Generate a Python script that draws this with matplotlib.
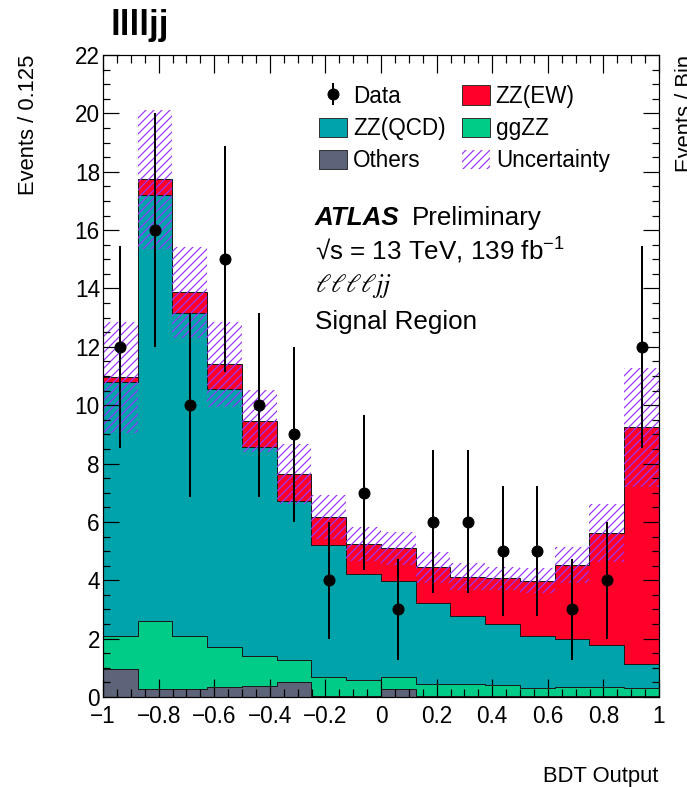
import numpy as np
import matplotlib
matplotlib.use("Agg")
import matplotlib.pyplot as plt
from matplotlib.patches import Patch

# 72 dpi: 1 pt == 1 px
W, H, DPI = 687, 787, 72
plt.rcParams['font.family'] = ['Liberation Sans', 'DejaVu Sans']
plt.rcParams['hatch.linewidth'] = 1.2

# bin edges of the BDT output (16 bins of 0.125)
edges = np.linspace(-1, 1, 17)

# stacked yields per bin, bottom to top
others = [0.95, 0.26, 0.26, 0.35, 0.39, 0.50, 0.05, 0.05,
          0.26, 0.02, 0.02, 0.02, 0.02, 0.02, 0.02, 0.02]
ggzz = [1.14, 2.35, 1.83, 1.36, 1.01, 0.77, 0.64, 0.52,
        0.44, 0.43, 0.41, 0.39, 0.29, 0.31, 0.31, 0.29]
zz_qcd = [8.72, 14.58, 11.06, 8.83, 7.16, 5.45, 4.51, 3.63,
          3.28, 2.78, 2.35, 2.08, 1.78, 1.67, 1.44, 0.82]
zz_ew = [0.14, 0.55, 0.72, 0.86, 0.90, 0.92, 0.96, 1.05,
         1.12, 1.21, 1.34, 1.58, 1.90, 2.52, 3.84, 8.11]
# total uncertainty (symmetric)
unc = [1.90, 2.38, 1.56, 1.46, 1.06, 1.03, 0.76, 0.59,
       0.56, 0.54, 0.46, 0.40, 0.42, 0.63, 1.00, 2.04]
# data
data = [12, 16, 10, 15, 10, 9, 4, 7, 3, 6, 6, 5, 5, 3, 4, 12]
data_err = [3.46, 4.00, 3.16, 3.87, 3.16, 3.00, 2.00, 2.65,
            1.73, 2.45, 2.45, 2.24, 2.24, 1.73, 2.00, 3.46]

c_others = '#5d6379'
c_ggzz = '#00cc88'
c_qcd = '#00a3a9'
c_ew = '#ff0029'
c_unc = '#9933ff'
hatch = '///'


def fx(px):
    return px / W


def fy(py):
    return 1 - py / H


fig = plt.figure(figsize=(W / DPI, H / DPI), dpi=DPI)
ax = fig.add_axes([fx(103), fy(697), fx(659) - fx(103), fy(55) - fy(697)])

# stack
comps = [(others, c_others), (ggzz, c_ggzz), (zz_qcd, c_qcd), (zz_ew, c_ew)]
base = np.zeros(16)
for vals, col in comps:
    top = base + np.array(vals)
    ax.stairs(top, edges, baseline=base, fill=True, facecolor=col,
              edgecolor='#1a1a1a', linewidth=1.0)
    base = top
total = base

# uncertainty band
ax.stairs(total + np.array(unc), edges, baseline=total - np.array(unc), fill=True,
          facecolor='none', edgecolor=c_unc, hatch=hatch, linewidth=0)

centers = 0.5 * (edges[:-1] + edges[1:])
dat = ax.errorbar(centers, data, yerr=data_err, fmt='o', color='black',
                  markersize=11, elinewidth=2, capsize=0)

ax.set_xlim(-1, 1)
ax.set_ylim(0, 22)
ax.set_xticks(np.arange(-1, 1.01, 0.2))
ax.set_xticks(np.arange(-1, 1.01, 0.05), minor=True)
ax.set_yticks(np.arange(0, 22.1, 2))
ax.set_yticks(np.arange(0, 22.1, 0.5), minor=True)
ax.xaxis.set_major_formatter(plt.FuncFormatter(
    lambda v, p: '0' if abs(v) < 1e-9 else ('%g' % round(v, 2)).replace('-', '\u2212')))
ax.tick_params(which='both', direction='in', top=True, right=True, width=1.2,
               labelsize=22.5)
ax.tick_params(axis='x', which='major', length=18, pad=8)
ax.tick_params(axis='x', which='minor', length=8)
ax.tick_params(axis='y', which='major', length=16, pad=3)
ax.tick_params(axis='y', which='minor', length=7)
for s in ax.spines.values():
    s.set_linewidth(1.2)

# axis titles
fig.text(fx(18), fy(55), 'Events / 0.125', rotation=90, ha='left', va='top', fontsize=22)
fig.text(fx(675), fy(55), 'Events / Bin', rotation=90, ha='left', va='top', fontsize=22)
fig.text(fx(658), fy(782), 'BDT Output', ha='right', va='baseline', fontsize=22)
fig.text(fx(111), fy(35), 'lllljj', ha='left', va='baseline', fontsize=35, fontweight='bold')

# legend, two columns
h_qcd = Patch(facecolor=c_qcd, edgecolor='#333333', linewidth=1)
h_oth = Patch(facecolor=c_others, edgecolor='#333333', linewidth=1)
h_ew = Patch(facecolor=c_ew, edgecolor='#333333', linewidth=1)
h_gg = Patch(facecolor=c_ggzz, edgecolor='#333333', linewidth=1)
h_unc = Patch(facecolor='none', edgecolor=c_unc, hatch=hatch, linewidth=0)
leg_kw = dict(loc='upper left', bbox_transform=fig.transFigure, frameon=False,
              fontsize=22.5, borderpad=0, handlelength=1.25, handleheight=0.96,
              handletextpad=0.25, labelspacing=0.41, borderaxespad=0)
leg1 = ax.legend([dat, h_qcd, h_oth], ['Data', 'ZZ(QCD)', 'Others'],
                 bbox_to_anchor=(fx(319), fy(85)), **leg_kw)
ax.add_artist(leg1)
ax.legend([h_ew, h_gg, h_unc], ['ZZ(EW)', 'ggZZ', 'Uncertainty'],
          bbox_to_anchor=(fx(462), fy(85)), **leg_kw)

# labels
fig.text(fx(315), fy(225), 'ATLAS', fontsize=26, fontweight='bold', fontstyle='italic',
         va='baseline')
fig.text(fx(412), fy(225), 'Preliminary', fontsize=26, va='baseline')
fig.text(fx(315), fy(259), '\u221as = 13 TeV, 139 fb$^{\\mathregular{-1}}$', fontsize=26,
         va='baseline')
fig.text(fx(315), fy(292), r'$\ell\ell\ell\ell jj$', fontsize=26, va='baseline',
         math_fontfamily='stix')
fig.text(fx(315), fy(329), 'Signal Region', fontsize=26, va='baseline')

fig.savefig('out.png', dpi=DPI)
